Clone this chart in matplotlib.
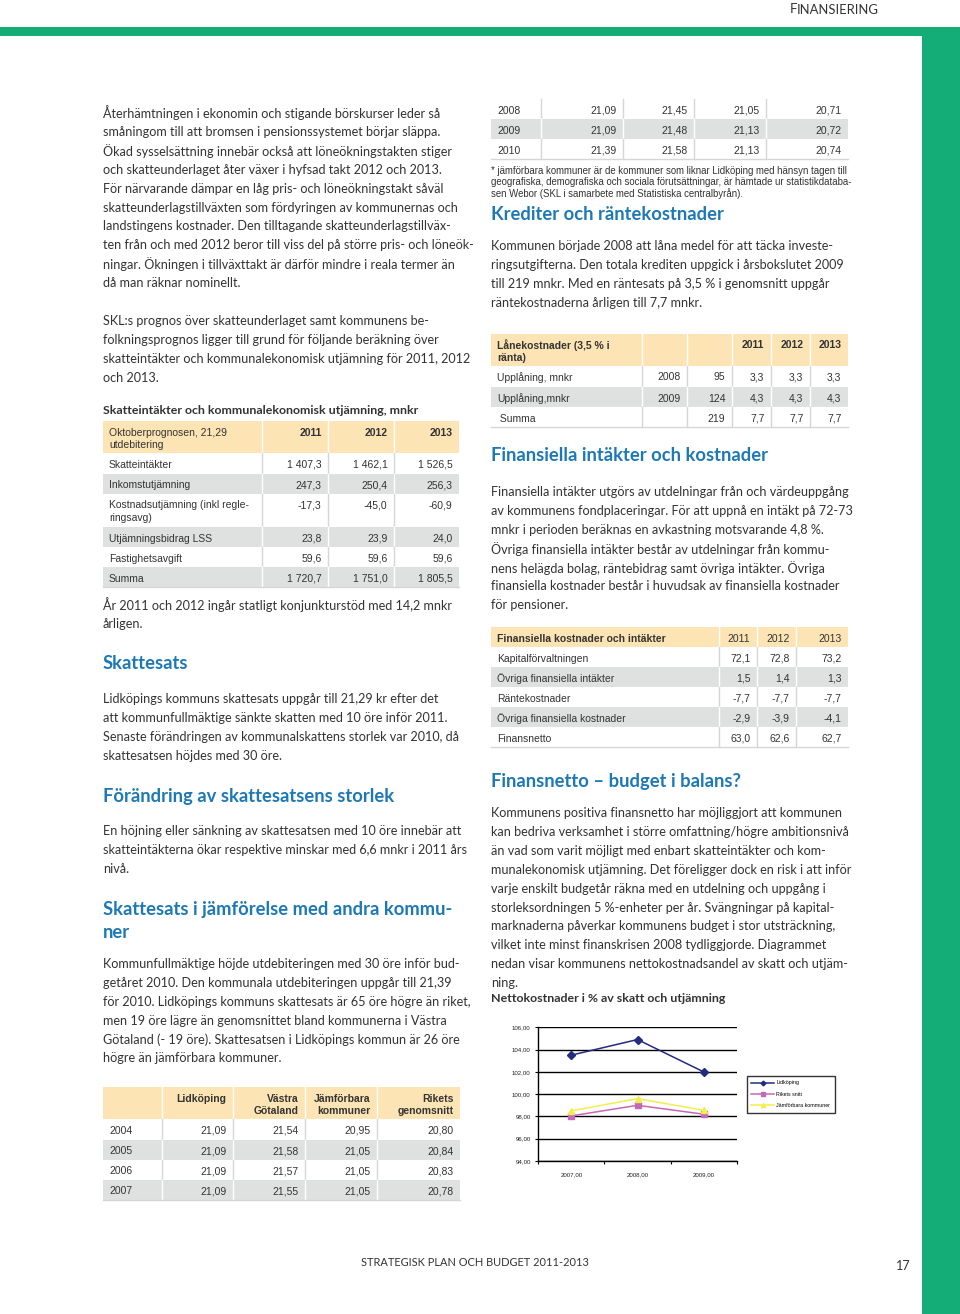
import numpy as np
import matplotlib
matplotlib.use("Agg")
import matplotlib.pyplot as plt
from matplotlib.patches import Rectangle
from matplotlib.textpath import TextPath
from matplotlib.font_manager import FontProperties
from matplotlib.ticker import FuncFormatter

# ---- chart data: Nettokostnader i % av skatt och utjämning ----
years = ["2007,00", "2008,00", "2009,00"]
lidkoping = [103.5, 104.9, 102.0]
rikets_snitt = [98.05, 99.0, 98.2]
jamforbara = [98.5, 99.6, 98.55]
series_names = ["Lidköping", "Rikets snitt", "Jämförbara kommuner"]

# ---- tables ----
skatt_header = ["Oktoberprognosen, 21,29\nutdebitering", "2011", "2012", "2013"]
skatt_rows = [
    ["Skatteintäkter", "1 407,3", "1 462,1", "1 526,5"],
    ["Inkomstutjämning", "247,3", "250,4", "256,3"],
    ["Kostnadsutjämning (inkl regle-\nringsavg)", "-17,3", "-45,0", "-60,9"],
    ["Utjämningsbidrag LSS", "23,8", "23,9", "24,0"],
    ["Fastighetsavgift", "59,6", "59,6", "59,6"],
    ["Summa", "1 720,7", "1 751,0", "1 805,5"],
]
jmf_header = ["", "Lidköping", "Västra\nGötaland", "Jämförbara\nkommuner", "Rikets\ngenomsnitt"]
jmf_rows_a = [
    ["2004", "21,09", "21,54", "20,95", "20,80"],
    ["2005", "21,09", "21,58", "21,05", "20,84"],
    ["2006", "21,09", "21,57", "21,05", "20,83"],
    ["2007", "21,09", "21,55", "21,05", "20,78"],
]
jmf_rows_b = [
    ["2008", "21,09", "21,45", "21,05", "20,71"],
    ["2009", "21,09", "21,48", "21,13", "20,72"],
    ["2010", "21,39", "21,58", "21,13", "20,74"],
]
lan_header = ["Lånekostnader (3,5 % i\nränta)", "", "", "2011", "2012", "2013"]
lan_rows = [
    ["Upplåning, mnkr", "2008", "95", "3,3", "3,3", "3,3"],
    ["Upplåning,mnkr", "2009", "124", "4,3", "4,3", "4,3"],
    [" Summa", "", "219", "7,7", "7,7", "7,7"],
]
fin_header = ["Finansiella kostnader och intäkter", "2011", "2012", "2013"]
fin_rows = [
    ["Kapitalförvaltningen", "72,1", "72,8", "73,2"],
    ["Övriga finansiella intäkter", "1,5", "1,4", "1,3"],
    ["Räntekostnader", "-7,7", "-7,7", "-7,7"],
    ["Övriga finansiella kostnader", "-2,9", "-3,9", "-4,1"],
    ["Finansnetto", "63,0", "62,6", "62,7"],
]

# ---- text ----
p_intro = [
    "Återhämtningen i ekonomin och stigande börskurser leder så",
    "småningom till att bromsen i pensionssystemet börjar släppa.",
    "Ökad sysselsättning innebär också att löneökningstakten stiger",
    "och skatteunderlaget åter växer i hyfsad takt 2012 och 2013.",
    "För närvarande dämpar en låg pris- och löneökningstakt såväl",
    "skatteunderlagstillväxten som fördyringen av kommunernas och",
    "landstingens kostnader. Den tilltagande skatteunderlagstillväx-",
    "ten från och med 2012 beror till viss del på större pris- och löneök-",
    "ningar. Ökningen i tillväxttakt är därför mindre i reala termer än",
    "då man räknar nominellt.",
]
p_skl = [
    "SKL:s prognos över skatteunderlaget samt kommunens be-",
    "folkningsprognos ligger till grund för följande beräkning över",
    "skatteintäkter och kommunalekonomisk utjämning för 2011, 2012",
    "och 2013.",
]
p_konj = ["År 2011 och 2012 ingår statligt konjunkturstöd med 14,2 mnkr", "årligen."]
p_sats = [
    "Lidköpings kommuns skattesats uppgår till 21,29 kr efter det",
    "att kommunfullmäktige sänkte skatten med 10 öre inför 2011.",
    "Senaste förändringen av kommunalskattens storlek var 2010, då",
    "skattesatsen höjdes med 30 öre.",
]
p_forandr = [
    "En höjning eller sänkning av skattesatsen med 10 öre innebär att",
    "skatteintäkterna ökar respektive minskar med 6,6 mnkr i 2011 års",
    "nivå.",
]
p_jmf = [
    "Kommunfullmäktige höjde utdebiteringen med 30 öre inför bud-",
    "getåret 2010. Den kommunala utdebiteringen uppgår till 21,39",
    "för 2010. Lidköpings kommuns skattesats är 65 öre högre än riket,",
    "men 19 öre lägre än genomsnittet bland kommunerna i Västra",
    "Götaland (- 19 öre). Skattesatsen i Lidköpings kommun är 26 öre",
    "högre än jämförbara kommuner.",
]
p_foot = [
    "* jämförbara kommuner är de kommuner som liknar Lidköping med hänsyn tagen till",
    "geografiska, demografiska och sociala förutsättningar, är hämtade ur statistikdataba-",
    "sen Webor (SKL i samarbete med Statistiska centralbyrån).",
]
p_kred = [
    "Kommunen började 2008 att låna medel för att täcka investe-",
    "ringsutgifterna. Den totala krediten uppgick i årsbokslutet 2009",
    "till 219 mnkr. Med en räntesats på 3,5 % i genomsnitt uppgår",
    "räntekostnaderna årligen till 7,7 mnkr.",
]
p_fin = [
    "Finansiella intäkter utgörs av utdelningar från och värdeuppgång",
    "av kommunens fondplaceringar. För att uppnå en intäkt på 72-73",
    "mnkr i perioden beräknas en avkastning motsvarande 4,8 %.",
    "Övriga finansiella intäkter består av utdelningar från kommu-",
    "nens helägda bolag, räntebidrag samt övriga intäkter. Övriga",
    "finansiella kostnader består i huvudsak av finansiella kostnader",
    "för pensioner.",
]
p_netto = [
    "Kommunens positiva finansnetto har möjliggjort att kommunen",
    "kan bedriva verksamhet i större omfattning/högre ambitionsnivå",
    "än vad som varit möjligt med enbart skatteintäkter och kom-",
    "munalekonomisk utjämning. Det föreligger dock en risk i att inför",
    "varje enskilt budgetår räkna med en utdelning och uppgång i",
    "storleksordningen 5 %-enheter per år. Svängningar på kapital-",
    "marknaderna påverkar kommunens budget i stor utsträckning,",
    "vilket inte minst finanskrisen 2008 tydliggjorde. Diagrammet",
    "nedan visar kommunens nettokostnadsandel av skatt och utjäm-",
    "ning.",
]

W, H = 960, 1314
GREEN = "#14ad77"
BLUE = "#1d79b6"
TEXT = "#333333"
PEACH = "#fde4b4"
GRAY = "#dfe0e0"
SERIF = "Lato"
ARIAL = "Liberation Sans"


def fit(text, target, family, weight="normal"):
    tp = TextPath((0, 0), text, size=10, prop=FontProperties(family=family, weight=weight))
    return 10 * target / (tp.get_extents().width * 100 / 72)


BODY = fit(p_fin[0], 353, SERIF)
HEAD = fit("Förändring av skattesatsens storlek", 288, SERIF, "bold")
TAB = fit("Kostnadsutjämning (inkl regle-", 138, ARIAL)
FOOT = fit(p_foot[0], 357, ARIAL)

fig = plt.figure(figsize=(W / 100, H / 100), dpi=100)
page = fig.add_axes([0, 0, 1, 1])
page.set_xlim(0, W)
page.set_ylim(H, 0)
page.axis("off")

# green frame
page.add_patch(Rectangle((0, 27), W, 9, color=GREEN, lw=0))
page.add_patch(Rectangle((922, 27), W - 922, H - 27, color=GREEN, lw=0))

# running header
page.text(790, 8, "F", fontsize=9.5, family=SERIF, color=TEXT, va="center_baseline")
page.text(797, 8.6, "INANSIERING", fontsize=fit("INANSIERING", 80, SERIF), family=SERIF,
          color=TEXT, va="center_baseline")


def para(lines, x, y0, step=18.9, size=None, family=SERIF, weight="normal", color=TEXT):
    size = size or BODY
    for i, line in enumerate(lines):
        page.text(x, y0 + i * step, line, fontsize=size, family=family, weight=weight,
                  color=color, va="center_baseline", ha="left")


def heading(lines, x, y0, step=23):
    para(lines, x, y0, step=step, size=HEAD, weight="bold", color=BLUE)


def table(xe, ye, colors, rows, bold_first_row=(), first_line_offset=10.5, pad=6.5):
    for r, color in enumerate(colors):
        y0, y1 = ye[r], ye[r + 1]
        page.add_patch(Rectangle((xe[0], y0), xe[-1] - xe[0], y1 - y0, color=color, lw=0))
        sep = "white" if color != "white" else "#d6d6d6"
        for xv in xe[1:-1]:
            page.plot([xv, xv], [y0, y1], color=sep, lw=1.0)
        for c, cell in enumerate(rows[r]):
            bold = r == 0 and c in bold_first_row
            for k, line in enumerate(cell.split("\n")):
                yy = y0 + first_line_offset + k * 12.5
                if c == 0:
                    page.text(xe[0] + pad - 0.5, yy, line, fontsize=TAB, family=ARIAL, color=TEXT,
                              weight="bold" if bold else "normal", va="center_baseline", ha="left")
                else:
                    page.text(xe[c + 1] - pad, yy, line, fontsize=TAB, family=ARIAL, color=TEXT,
                              weight="bold" if bold else "normal", va="center_baseline", ha="right")
    page.plot([xe[0], xe[-1]], [ye[-1], ye[-1]], color="#d6d6d6", lw=1.0)


# ---------- left column ----------
para(p_intro, 103, 112)
para(p_skl, 103, 320)
para(["Skatteintäkter och kommunalekonomisk utjämning, mnkr"], 103, 410,
     size=fit("Skatteintäkter och kommunalekonomisk utjämning, mnkr", 317, SERIF, "bold"), weight="bold")
table([103, 262, 328, 394, 459], [421, 453, 474, 494, 527, 547, 567, 587],
      [PEACH, "white", GRAY, "white", GRAY, "white", GRAY],
      [skatt_header] + skatt_rows, bold_first_row=(1, 2, 3))
para(p_konj, 103, 604)
heading(["Skattesats"], 103, 662)
para(p_sats, 103, 698)
heading(["Förändring av skattesatsens storlek"], 103, 795)
para(p_forandr, 103, 830)
heading(["Skattesats i jämförelse med andra kommu-", "ner"], 103, 908)
para(p_jmf, 103, 963)
table([103, 162, 233, 305, 377, 460], [1087, 1119, 1140, 1160, 1180, 1200],
      [PEACH, "white", GRAY, "white", GRAY],
      [jmf_header] + jmf_rows_a, bold_first_row=(1, 2, 3, 4))

# ---------- right column ----------
table([491, 541, 623, 694, 766, 848], [99, 119, 139, 159],
      ["white", GRAY, "white"], jmf_rows_b)
para(p_foot, 491, 170, step=11.2, size=FOOT, family=ARIAL)
heading(["Krediter och räntekostnader"], 491, 213)
para(p_kred, 491, 245)
table([491, 642, 687, 732, 771, 810, 848], [334, 366, 387, 407, 427],
      [PEACH, "white", GRAY, "white"],
      [lan_header] + lan_rows, bold_first_row=(0, 3, 4, 5))
heading(["Finansiella intäkter och kostnader"], 491, 454)
para(p_fin, 491, 491)
table([491, 719, 757, 796, 848], [627, 647, 667, 687, 707, 727, 747],
      [PEACH, "white", GRAY, "white", GRAY, "white"],
      [fin_header] + fin_rows, bold_first_row=(0,))
heading(["Finansnetto – budget i balans?"], 491, 780)
para(p_netto, 491, 812)
para(["Nettokostnader i % av skatt och utjämning"], 491, 997,
     size=fit("Nettokostnader i % av skatt och utjämning", 233, SERIF, "bold"), weight="bold")

# footer
page.text(475, 1262, "STRATEGISK PLAN OCH BUDGET 2011-2013",
          fontsize=fit("STRATEGISK PLAN OCH BUDGET 2011-2013", 226, SERIF), family=SERIF,
          color=TEXT, ha="center", va="center_baseline")
page.text(903, 1265, "17", fontsize=BODY, family=SERIF, color=TEXT, ha="center", va="center_baseline")

# ---------- chart ----------
ax = fig.add_axes([538.3 / W, 1 - 1161 / H, (736.7 - 538.3) / W, (1161 - 1027.3) / H])
xs = np.arange(len(years))
ax.plot(xs, lidkoping, color="#232b80", marker="D", ms=4, lw=1.1, label=series_names[0])
ax.plot(xs, rikets_snitt, color="#c468b9", marker="s", ms=4.5, lw=1.1, label=series_names[1])
ax.plot(xs, jamforbara, color="#f3ee4c", marker="^", ms=5, lw=1.1, label=series_names[2])
ax.set_xlim(-0.5, len(years) - 0.5)
ax.set_ylim(94, 106)
ax.set_yticks(np.arange(94, 107, 2))
ax.yaxis.set_major_formatter(FuncFormatter(lambda v, p: f"{v:.2f}".replace(".", ",")))
ax.grid(axis="y", color="black", lw=1.0)
ax.set_axisbelow(True)
ax.set_xticks(np.arange(-0.5, len(years)))
ax.set_xticklabels([])
ax.set_xticks(xs, minor=True)
ax.set_xticklabels(years, minor=True)
ax.tick_params(axis="x", which="minor", length=0, pad=8, labelsize=4.4)
ax.tick_params(axis="x", which="major", length=2.5, width=0.8, direction="out")
ax.tick_params(axis="y", length=2.5, width=0.8, labelsize=4.4, pad=3)
for s in ["top", "right"]:
    ax.spines[s].set_visible(False)
for s in ["left", "bottom"]:
    ax.spines[s].set_linewidth(1.0)
ax.set_facecolor("none")
for lab in ax.get_xticklabels(minor=True) + ax.get_yticklabels():
    lab.set_family(ARIAL)
    lab.set_color("#222222")
leg = ax.legend(loc="upper left", bbox_to_anchor=(746.7 / W, 1 - 1075.7 / H),
                bbox_transform=fig.transFigure, fancybox=False, edgecolor="black",
                prop=FontProperties(family=ARIAL, size=3.8), handlelength=4.2,
                labelspacing=1.2, borderpad=0.9, handletextpad=0.5, borderaxespad=0,
                markerscale=0.6)
leg.get_frame().set_linewidth(1.0)

fig.savefig("out.png", dpi=100)
